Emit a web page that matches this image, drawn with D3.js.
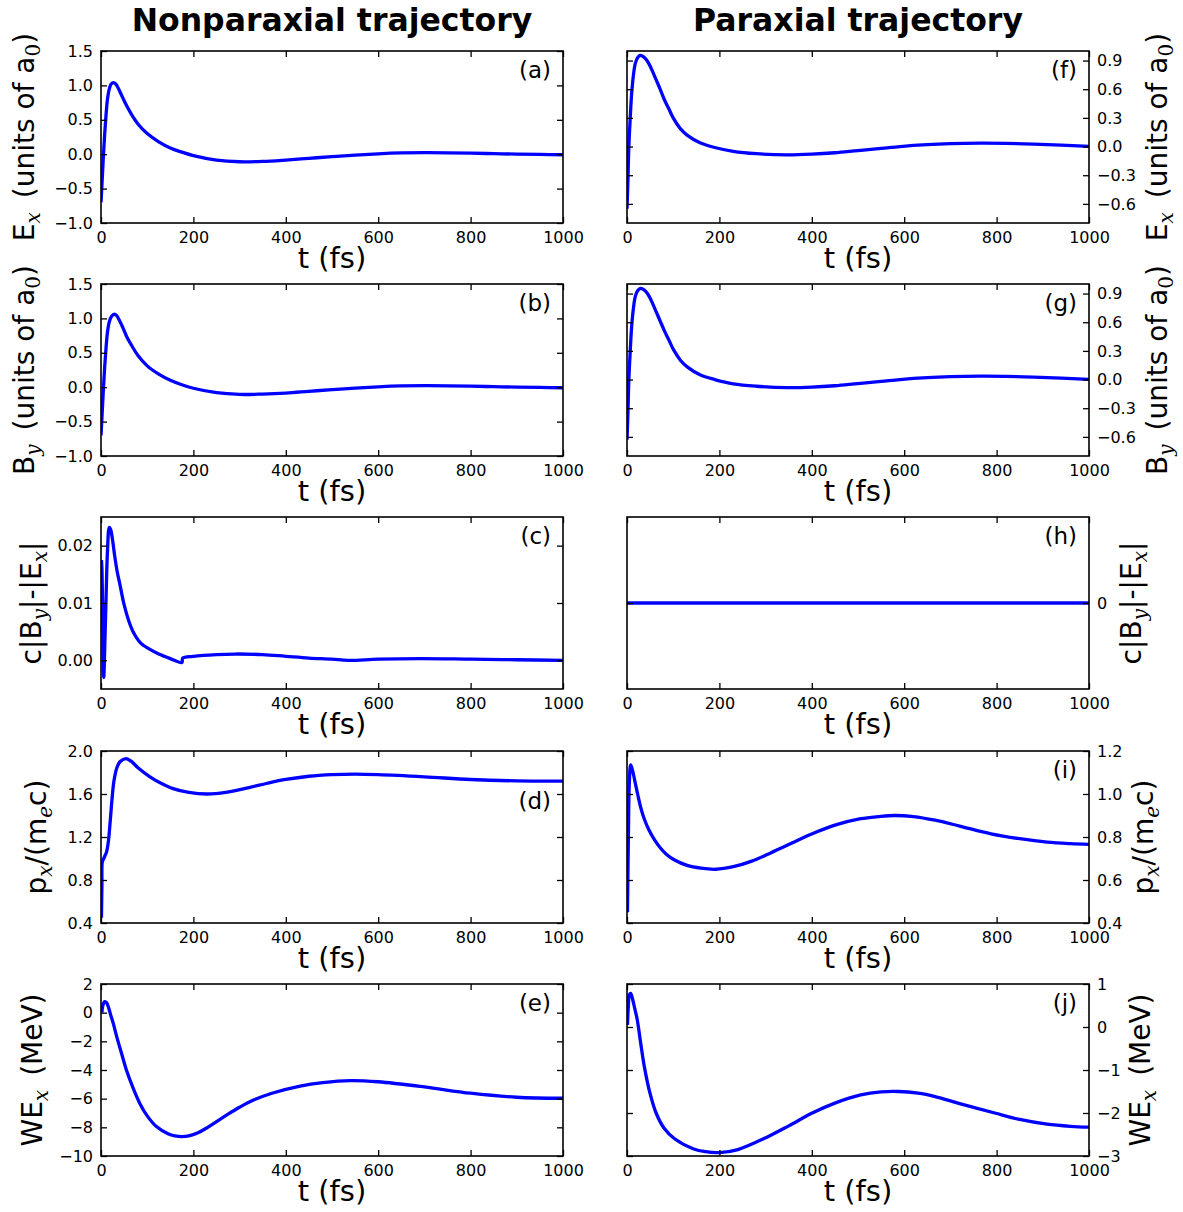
<!DOCTYPE html>
<html><head><meta charset="utf-8">
<script src="https://cdn.jsdelivr.net/npm/d3@7"></script>
<style>
body{margin:0;background:#fff}
svg{display:block}
</style>
</head><body>
<svg id="chart" width="1183" height="1212"></svg>
<script>
// ---------- data ----------
const columnTitles = ["Nonparaxial trajectory", "Paraxial trajectory"];
const xTicks = [0, 200, 400, 600, 800, 1000];
const xLabel = "t (fs)";

// Nonparaxial
const exNon = [[0,-0.70],[2,-0.45],[5,-0.05],[8,0.30],[11,0.58],[14,0.80],[18,0.95],[22,1.02],[27,1.04],[32,1.02],[38,0.95],[45,0.85],[55,0.71],[65,0.59],[80,0.44],[100,0.30],[125,0.18],[150,0.09],[175,0.03],[200,-0.02],[250,-0.085],[300,-0.11],[350,-0.105],[400,-0.085],[450,-0.06],[500,-0.035],[550,-0.012],[600,0.006],[650,0.018],[700,0.022],[750,0.02],[800,0.015],[850,0.008],[900,0.001],[950,-0.004],[1000,-0.008]];
const byNon = [[0,-0.70],[2,-0.45],[5,-0.05],[8,0.30],[11,0.58],[14,0.80],[18,0.95],[23,1.03],[29,1.06],[34,1.04],[40,0.97],[47,0.87],[56,0.73],[66,0.61],[80,0.46],[100,0.31],[125,0.19],[150,0.10],[175,0.035],[200,-0.015],[250,-0.08],[300,-0.105],[350,-0.1],[400,-0.085],[450,-0.06],[500,-0.035],[550,-0.012],[600,0.006],[650,0.018],[700,0.022],[750,0.02],[800,0.015],[850,0.008],[900,0.001],[950,-0.004],[1000,-0.008]];
const diffNon = [[1,0.0175],[2,0.016],[4,0.006],[6,-0.003],[8,0.002],[11,0.011],[14,0.019],[18,0.0232],[21,0.0228],[25,0.021],[30,0.018],[35,0.0155],[41,0.0132],[50,0.0097],[60,0.0069],[70,0.0049],[85,0.0031],[106,0.0019],[125,0.0011],[150,0.0003],[175,-0.0004],[177,0.0004],[200,0.0007],[250,0.001],[290,0.0011],[350,0.001],[400,0.0007],[450,0.0004],[500,0.0002],[535,0.0],[600,0.0002],[690,0.0003],[800,0.0002],[900,0.0001],[1000,0.0]];
const pxNon = [[1,0.45],[2,0.75],[3,0.97],[6,1.00],[9,1.03],[12,1.06],[16,1.16],[20,1.35],[24,1.56],[28,1.72],[34,1.84],[41,1.90],[54,1.93],[65,1.905],[80,1.845],[106,1.76],[130,1.70],[156,1.65],[190,1.615],[229,1.60],[270,1.615],[320,1.66],[360,1.70],[400,1.735],[450,1.765],[500,1.78],[550,1.785],[600,1.78],[700,1.76],[800,1.735],[900,1.722],[1000,1.72]];
const weNon = [[2,0.0],[4,0.5],[8,0.77],[12,0.7],[16,0.4],[20,-0.05],[27,-0.8],[34,-1.67],[45,-2.9],[55,-4.0],[70,-5.3],[84,-6.33],[100,-7.2],[120,-7.95],[145,-8.45],[160,-8.6],[175,-8.65],[190,-8.6],[210,-8.38],[230,-8.02],[250,-7.6],[275,-7.08],[300,-6.6],[330,-6.1],[370,-5.62],[431,-5.12],[480,-4.88],[540,-4.74],[600,-4.82],[700,-5.18],[800,-5.62],[900,-5.9],[1000,-5.97]];

// Paraxial
const exPar = [[0,-0.65],[2,-0.35],[4,0.0],[7,0.3],[10,0.55],[14,0.75],[18,0.87],[23,0.93],[28,0.955],[34,0.945],[40,0.92],[47,0.87],[55,0.79],[63,0.70],[71,0.61],[80,0.50],[90,0.40],[100,0.30],[115,0.19],[130,0.12],[158,0.04],[190,-0.01],[230,-0.05],[280,-0.075],[346,-0.087],[400,-0.08],[450,-0.065],[500,-0.042],[550,-0.02],[591,0.0],[650,0.02],[700,0.03],[764,0.035],[820,0.033],[880,0.025],[940,0.014],[1000,0.002]];
const byPar = [[0,-0.63],[2,-0.35],[4,0.0],[7,0.3],[10,0.55],[14,0.75],[18,0.87],[23,0.93],[29,0.955],[35,0.945],[41,0.92],[48,0.87],[56,0.79],[64,0.70],[72,0.61],[81,0.51],[91,0.41],[101,0.31],[116,0.20],[131,0.13],[158,0.05],[190,0.0],[230,-0.045],[280,-0.07],[346,-0.085],[400,-0.08],[450,-0.065],[500,-0.042],[550,-0.02],[591,0.0],[650,0.02],[700,0.03],[764,0.035],[820,0.033],[880,0.025],[940,0.014],[1000,0.002]];
const diffPar = [[0,0],[250,0],[500,0],[750,0],[1000,0]];
const pxPar = [[1,0.45],[3,0.8],[5,1.05],[8,1.135],[12,1.11],[17,1.06],[23,1.0],[30,0.935],[38,0.88],[47,0.835],[60,0.785],[71,0.752],[85,0.72],[103,0.693],[130,0.668],[160,0.655],[192,0.65],[230,0.662],[270,0.688],[305,0.72],[350,0.765],[401,0.815],[450,0.855],[506,0.885],[545,0.895],[579,0.9],[620,0.895],[667,0.878],[720,0.851],[788,0.815],[850,0.792],[909,0.776],[960,0.769],[1000,0.766]];
const wePar = [[1,0.05],[3,0.5],[5,0.75],[8,0.78],[12,0.65],[17,0.42],[22,0.18],[30,-0.4],[38,-0.95],[50,-1.55],[63,-2.0],[80,-2.35],[103,-2.6],[143,-2.83],[170,-2.9],[200,-2.92],[240,-2.85],[305,-2.55],[350,-2.3],[401,-2.0],[450,-1.77],[506,-1.58],[550,-1.51],[587,-1.5],[630,-1.54],[667,-1.62],[720,-1.78],[796,-2.0],[850,-2.15],[909,-2.26],[960,-2.31],[1000,-2.33]];

// axis domains / ticks
const domExNon = [-1, 1.5], ticksExNon = [-1, -0.5, 0, 0.5, 1, 1.5];
const domDiffNon = [-0.005, 0.025], ticksDiffNon = [0, 0.01, 0.02];
const domPxNon = [0.4, 2.0], ticksPxNon = [0.4, 0.8, 1.2, 1.6, 2.0];
const domWeNon = [-10, 2], ticksWeNon = [-10, -8, -6, -4, -2, 0, 2];
const domExPar = [-0.8, 1.0], ticksExPar = [-0.6, -0.3, 0, 0.3, 0.6, 0.9];
const domDiffPar = [-1, 1], ticksDiffPar = [0];
const domPxPar = [0.4, 1.2], ticksPxPar = [0.4, 0.6, 0.8, 1.0, 1.2];
const domWePar = [-3, 1], ticksWePar = [-3, -2, -1, 0, 1];

// y-label pieces: [text, kind] ; kind: n normal, s italic subscript, r roman subscript, g gap before
const labEx = [["E","n"],["x","s"],["(units of a","g"],["0","r"],[")","n"]];
const labBy = [["B","n"],["y","s"],["(units of a","g"],["0","r"],[")","n"]];
const labDiff = [["c|B","n"],["y","s"],["|-|E","n"],["x","s"],["|","n"]];
const labPx = [["p","n"],["x","s"],["/(m","n"],["e","s"],["c)","n"]];
const labWe = [["WE","n"],["x","s"],["(MeV)","g"]];

const panelLetters = ["(a)","(b)","(c)","(d)","(e)","(f)","(g)","(h)","(i)","(j)"];

const panels = [
  {col:0,row:0,data:exNon,dom:domExNon,ticks:ticksExNon,fmt:".1f",lab:labEx},
  {col:0,row:1,data:byNon,dom:domExNon,ticks:ticksExNon,fmt:".1f",lab:labBy},
  {col:0,row:2,data:diffNon,dom:domDiffNon,ticks:ticksDiffNon,fmt:".2f",lab:labDiff},
  {col:0,row:3,data:pxNon,dom:domPxNon,ticks:ticksPxNon,fmt:".1f",lab:labPx},
  {col:0,row:4,data:weNon,dom:domWeNon,ticks:ticksWeNon,fmt:"d",lab:labWe},
  {col:1,row:0,data:exPar,dom:domExPar,ticks:ticksExPar,fmt:".1f",lab:labEx},
  {col:1,row:1,data:byPar,dom:domExPar,ticks:ticksExPar,fmt:".1f",lab:labBy},
  {col:1,row:2,data:diffPar,dom:domDiffPar,ticks:ticksDiffPar,fmt:"d",lab:labDiff},
  {col:1,row:3,data:pxPar,dom:domPxPar,ticks:ticksPxPar,fmt:".1f",lab:labPx},
  {col:1,row:4,data:wePar,dom:domWePar,ticks:ticksWePar,fmt:"d",lab:labWe}
];

// ---------- layout ----------
const FONT = "'DejaVu Sans', sans-serif";
const SUBFONT = "'DejaVu Serif', 'Liberation Serif', serif";
const colX = [101, 627];
const rowY = [51, 284, 517, 751, 984];
const PW = 462, PH = 172;
const leftLabX = [34, 34, 41, 46, 42];
const rightLabX = [1167, 1167, 1141, 1153, 1150];

const svg = d3.select("#chart");
svg.append("rect").attr("width",1183).attr("height",1212).attr("fill","#fff");

// titles
columnTitles.forEach((t,i)=>{
  svg.append("text").attr("x", colX[i]+PW/2).attr("y", 31)
    .attr("font-family",FONT)
    .attr("text-anchor","middle").attr("font-size",31.5).attr("font-weight","bold").text(t);
});

function styleAxis(g){
  g.select(".domain").remove();
  g.attr("font-family",FONT).attr("font-size",16);
  g.selectAll("line").attr("stroke","#000").attr("stroke-width",1.3);
  g.selectAll("text").attr("fill","#000");
}

function drawYLabel(parts, x, y){
  const t = svg.append("text")
    .attr("transform",`translate(${x},${y}) rotate(-90)`)
    .attr("font-family",FONT)
    .attr("text-anchor","middle").attr("font-size",28);
  let shifted = false;
  parts.forEach(([s,kind])=>{
    const ts = t.append("tspan").text(s);
    if(kind==="s" || kind==="r"){
      ts.attr("font-family",SUBFONT).attr("font-size",20).attr("dy",6);
      if(kind==="s") ts.attr("font-style","italic");
      shifted = true;
    } else {
      if(shifted){ ts.attr("dy",-6); shifted=false; }
      if(kind==="g") ts.attr("dx",14);
    }
  });
}

panels.forEach((p,i)=>{
  const x0 = colX[p.col], y0 = rowY[p.row];
  const x = d3.scaleLinear().domain([0,1000]).range([x0, x0+PW]);
  const y = d3.scaleLinear().domain(p.dom).range([y0+PH, y0]);
  const fmt = d3.format(p.fmt);

  const clipId = "clip"+i;
  svg.append("clipPath").attr("id",clipId).append("rect")
    .attr("x",x0).attr("y",y0).attr("width",PW).attr("height",PH);

  const line = d3.line().x(d=>x(d[0])).y(d=>y(d[1])).curve(d3.curveCatmullRom.alpha(0.5));
  svg.append("path").datum(p.data).attr("d",line)
    .attr("fill","none").attr("stroke","#0000ff").attr("stroke-width",3.3)
    .attr("stroke-linejoin","round").attr("clip-path",`url(#${clipId})`);

  // x axes
  svg.append("g").attr("transform",`translate(0,${y0+PH})`)
    .call(d3.axisBottom(x).tickValues(xTicks).tickSizeInner(-6).tickSizeOuter(0).tickPadding(9).tickFormat(d3.format("d")))
    .call(styleAxis);
  svg.append("g").attr("transform",`translate(0,${y0})`)
    .call(d3.axisTop(x).tickValues(xTicks).tickSizeInner(-6).tickSizeOuter(0).tickFormat(""))
    .call(styleAxis);
  // y axes
  const leftAx = d3.axisLeft(y).tickValues(p.ticks).tickSizeInner(-6).tickSizeOuter(0).tickPadding(8);
  const rightAx = d3.axisRight(y).tickValues(p.ticks).tickSizeInner(-6).tickSizeOuter(0).tickPadding(8);
  if(p.col===0){ leftAx.tickFormat(fmt); rightAx.tickFormat(""); }
  else { leftAx.tickFormat(""); rightAx.tickFormat(fmt); }
  svg.append("g").attr("transform",`translate(${x0},0)`).call(leftAx).call(styleAxis);
  svg.append("g").attr("transform",`translate(${x0+PW},0)`).call(rightAx).call(styleAxis);

  // frame
  svg.append("rect").attr("x",x0).attr("y",y0).attr("width",PW).attr("height",PH)
    .attr("fill","none").attr("stroke","#000").attr("stroke-width",1.6);

  // x label
  svg.append("text").attr("x",x0+PW/2).attr("y",y0+PH+45)
    .attr("font-family",FONT)
    .attr("text-anchor","middle").attr("font-size",29).text(xLabel);

  // panel letter
  const ly = (i===3) ? y0+58 : y0+27;
  svg.append("text").attr("x",x0+PW-12).attr("y",ly)
    .attr("font-family",FONT)
    .attr("text-anchor","end").attr("font-size",23).text(panelLetters[i]);

  // y label
  const lx = p.col===0 ? leftLabX[p.row] : rightLabX[p.row];
  drawYLabel(p.lab, lx, y0+PH/2);
});
</script>
</body></html>
